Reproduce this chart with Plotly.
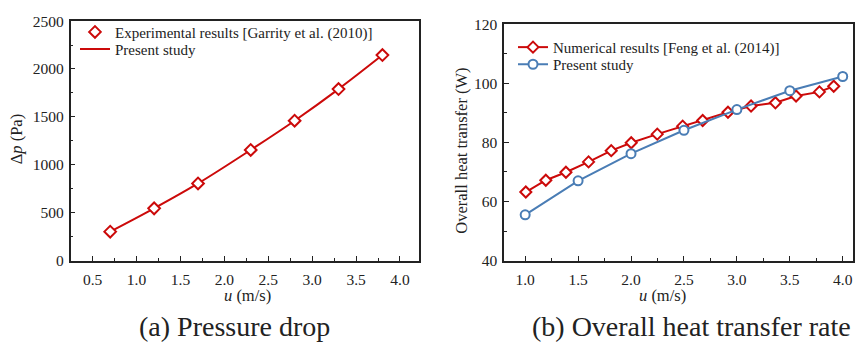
import plotly.graph_objects as go

# ---- data ----
u_exp = [0.7, 1.2, 1.7, 2.3, 2.8, 3.3, 3.8]
dp_exp = [302, 545, 805, 1155, 1460, 1790, 2145]
dp_present = [302, 545, 805, 1155, 1460, 1790, 2145]

u_feng = [1.006, 1.195, 1.385, 1.599, 1.813, 2.002, 2.248, 2.488, 2.677, 2.916,
          3.134, 3.364, 3.559, 3.780, 3.915]
q_feng = [63.2, 67.2, 69.9, 73.4, 77.2, 79.9, 82.8, 85.5, 87.4, 90.2,
          92.3, 93.4, 95.7, 97.1, 99.0]
u_present = [1.0, 1.5, 2.0, 2.5, 3.0, 3.5, 4.0]
q_present = [55.5, 67.0, 76.2, 84.1, 91.1, 97.5, 102.3]

RED = "#cc0a0a"
BLUE = "#4a7db5"
FONT = "Liberation Serif, Times New Roman, serif"
W, H = 862, 348

def px(x):
    return x / W

def py(y):
    return 1 - y / H

fig = go.Figure()

fig.add_trace(go.Scatter(
    x=u_exp, y=dp_present, mode="lines", name="Present study",
    line=dict(color=RED, width=2, shape="spline"),
    xaxis="x", yaxis="y", legend="legend3"))
fig.add_trace(go.Scatter(
    x=u_exp, y=dp_exp, mode="markers", name="Experimental results [Garrity et al. (2010)]",
    marker=dict(symbol="diamond", size=9, color="white", line=dict(color=RED, width=2)),
    xaxis="x", yaxis="y", legend="legend"))

fig.add_trace(go.Scatter(
    x=u_feng, y=q_feng, mode="lines+markers", name="Numerical results [Feng et al. (2014)]",
    line=dict(color=RED, width=2),
    marker=dict(symbol="diamond", size=8.5, color="white", line=dict(color=RED, width=2)),
    xaxis="x2", yaxis="y2", legend="legend2"))
fig.add_trace(go.Scatter(
    x=u_present, y=q_present, mode="lines+markers", name="Present study",
    line=dict(color=BLUE, width=2),
    marker=dict(symbol="circle", size=9, color="white", line=dict(color=BLUE, width=2)),
    xaxis="x2", yaxis="y2", legend="legend4"))

axis_common = dict(
    showline=True, linecolor="#222", linewidth=1.5, mirror=True,
    ticks="inside", ticklen=5, tickwidth=1.2, tickcolor="#222",
    showgrid=False, zeroline=False,
    tickfont=dict(family=FONT, size=15.5, color="#222"),
)

def leg(x, y):
    return dict(x=px(x), y=py(y), xanchor="left", yanchor="top",
                bgcolor="rgba(0,0,0,0)", font=dict(family=FONT, size=15, color="#222"),
                tracegroupgap=0, itemwidth=30)

fig.update_layout(
    width=W, height=H,
    margin=dict(l=0, r=0, t=0, b=0),
    paper_bgcolor="white", plot_bgcolor="white",
    font=dict(family=FONT, color="#222"),
    xaxis=dict(domain=[px(70.7), px(419.3)], anchor="y", range=[0.25, 4.22],
               tickvals=[0.5, 1.0, 1.5, 2.0, 2.5, 3.0, 3.5, 4.0],
               ticktext=["0.5", "1.0", "1.5", "2.0", "2.5", "3.0", "3.5", "4.0"],
               minor=dict(ticks="inside", ticklen=3, dtick=0.25, tick0=0.25, tickcolor="#222"),
               ticklabelstandoff=4, **axis_common),
    yaxis=dict(domain=[py(264.5), py(12.7)], anchor="x", range=[0, 2500],
               dtick=500, minor=dict(ticks="inside", ticklen=3, dtick=250, tickcolor="#222"),
               ticklabelstandoff=2, **axis_common),
    xaxis2=dict(domain=[px(504), px(853.3)], anchor="y2", range=[0.8, 4.1],
                tickvals=[1.0, 1.5, 2.0, 2.5, 3.0, 3.5, 4.0],
                ticktext=["1.0", "1.5", "2.0", "2.5", "3.0", "3.5", "4.0"],
                minor=dict(ticks="inside", ticklen=3, dtick=0.25, tick0=0.25, tickcolor="#222"),
                ticklabelstandoff=4, **axis_common),
    yaxis2=dict(domain=[py(264.5), py(16)], anchor="x2", range=[40, 120],
                dtick=20, minor=dict(ticks="inside", ticklen=3, dtick=10, tickcolor="#222"),
                ticklabelstandoff=2, **axis_common),
    legend=leg(75, 7),
    legend3=leg(75, 25),
    legend2=leg(513, 23),
    legend4=leg(513, 41),
    showlegend=True,
)

annots = [
    dict(text="Δ<i>p</i> (Pa)", x=px(16), y=py(137), textangle=-90, size=16.5),
    dict(text="Overall heat transfer (W)", x=px(462), y=py(149), textangle=-90, size=16.5),
    dict(text="<i>u</i> (m/s)", x=px(247), y=py(301), textangle=0, size=16.5),
    dict(text="<i>u</i> (m/s)", x=px(662), y=py(301), textangle=0, size=16.5),
    dict(text="(a) Pressure drop", x=px(234), y=py(334), textangle=0, size=28),
    dict(text="(b) Overall heat transfer rate", x=px(691), y=py(334), textangle=0, size=28),
]
for a in annots:
    fig.add_annotation(text=a["text"], x=a["x"], y=a["y"], xref="paper", yref="paper",
                       xanchor="center", yanchor="middle", textangle=a["textangle"],
                       showarrow=False, font=dict(family=FONT, size=a["size"], color="#222"))

fig.write_html("out.html")
